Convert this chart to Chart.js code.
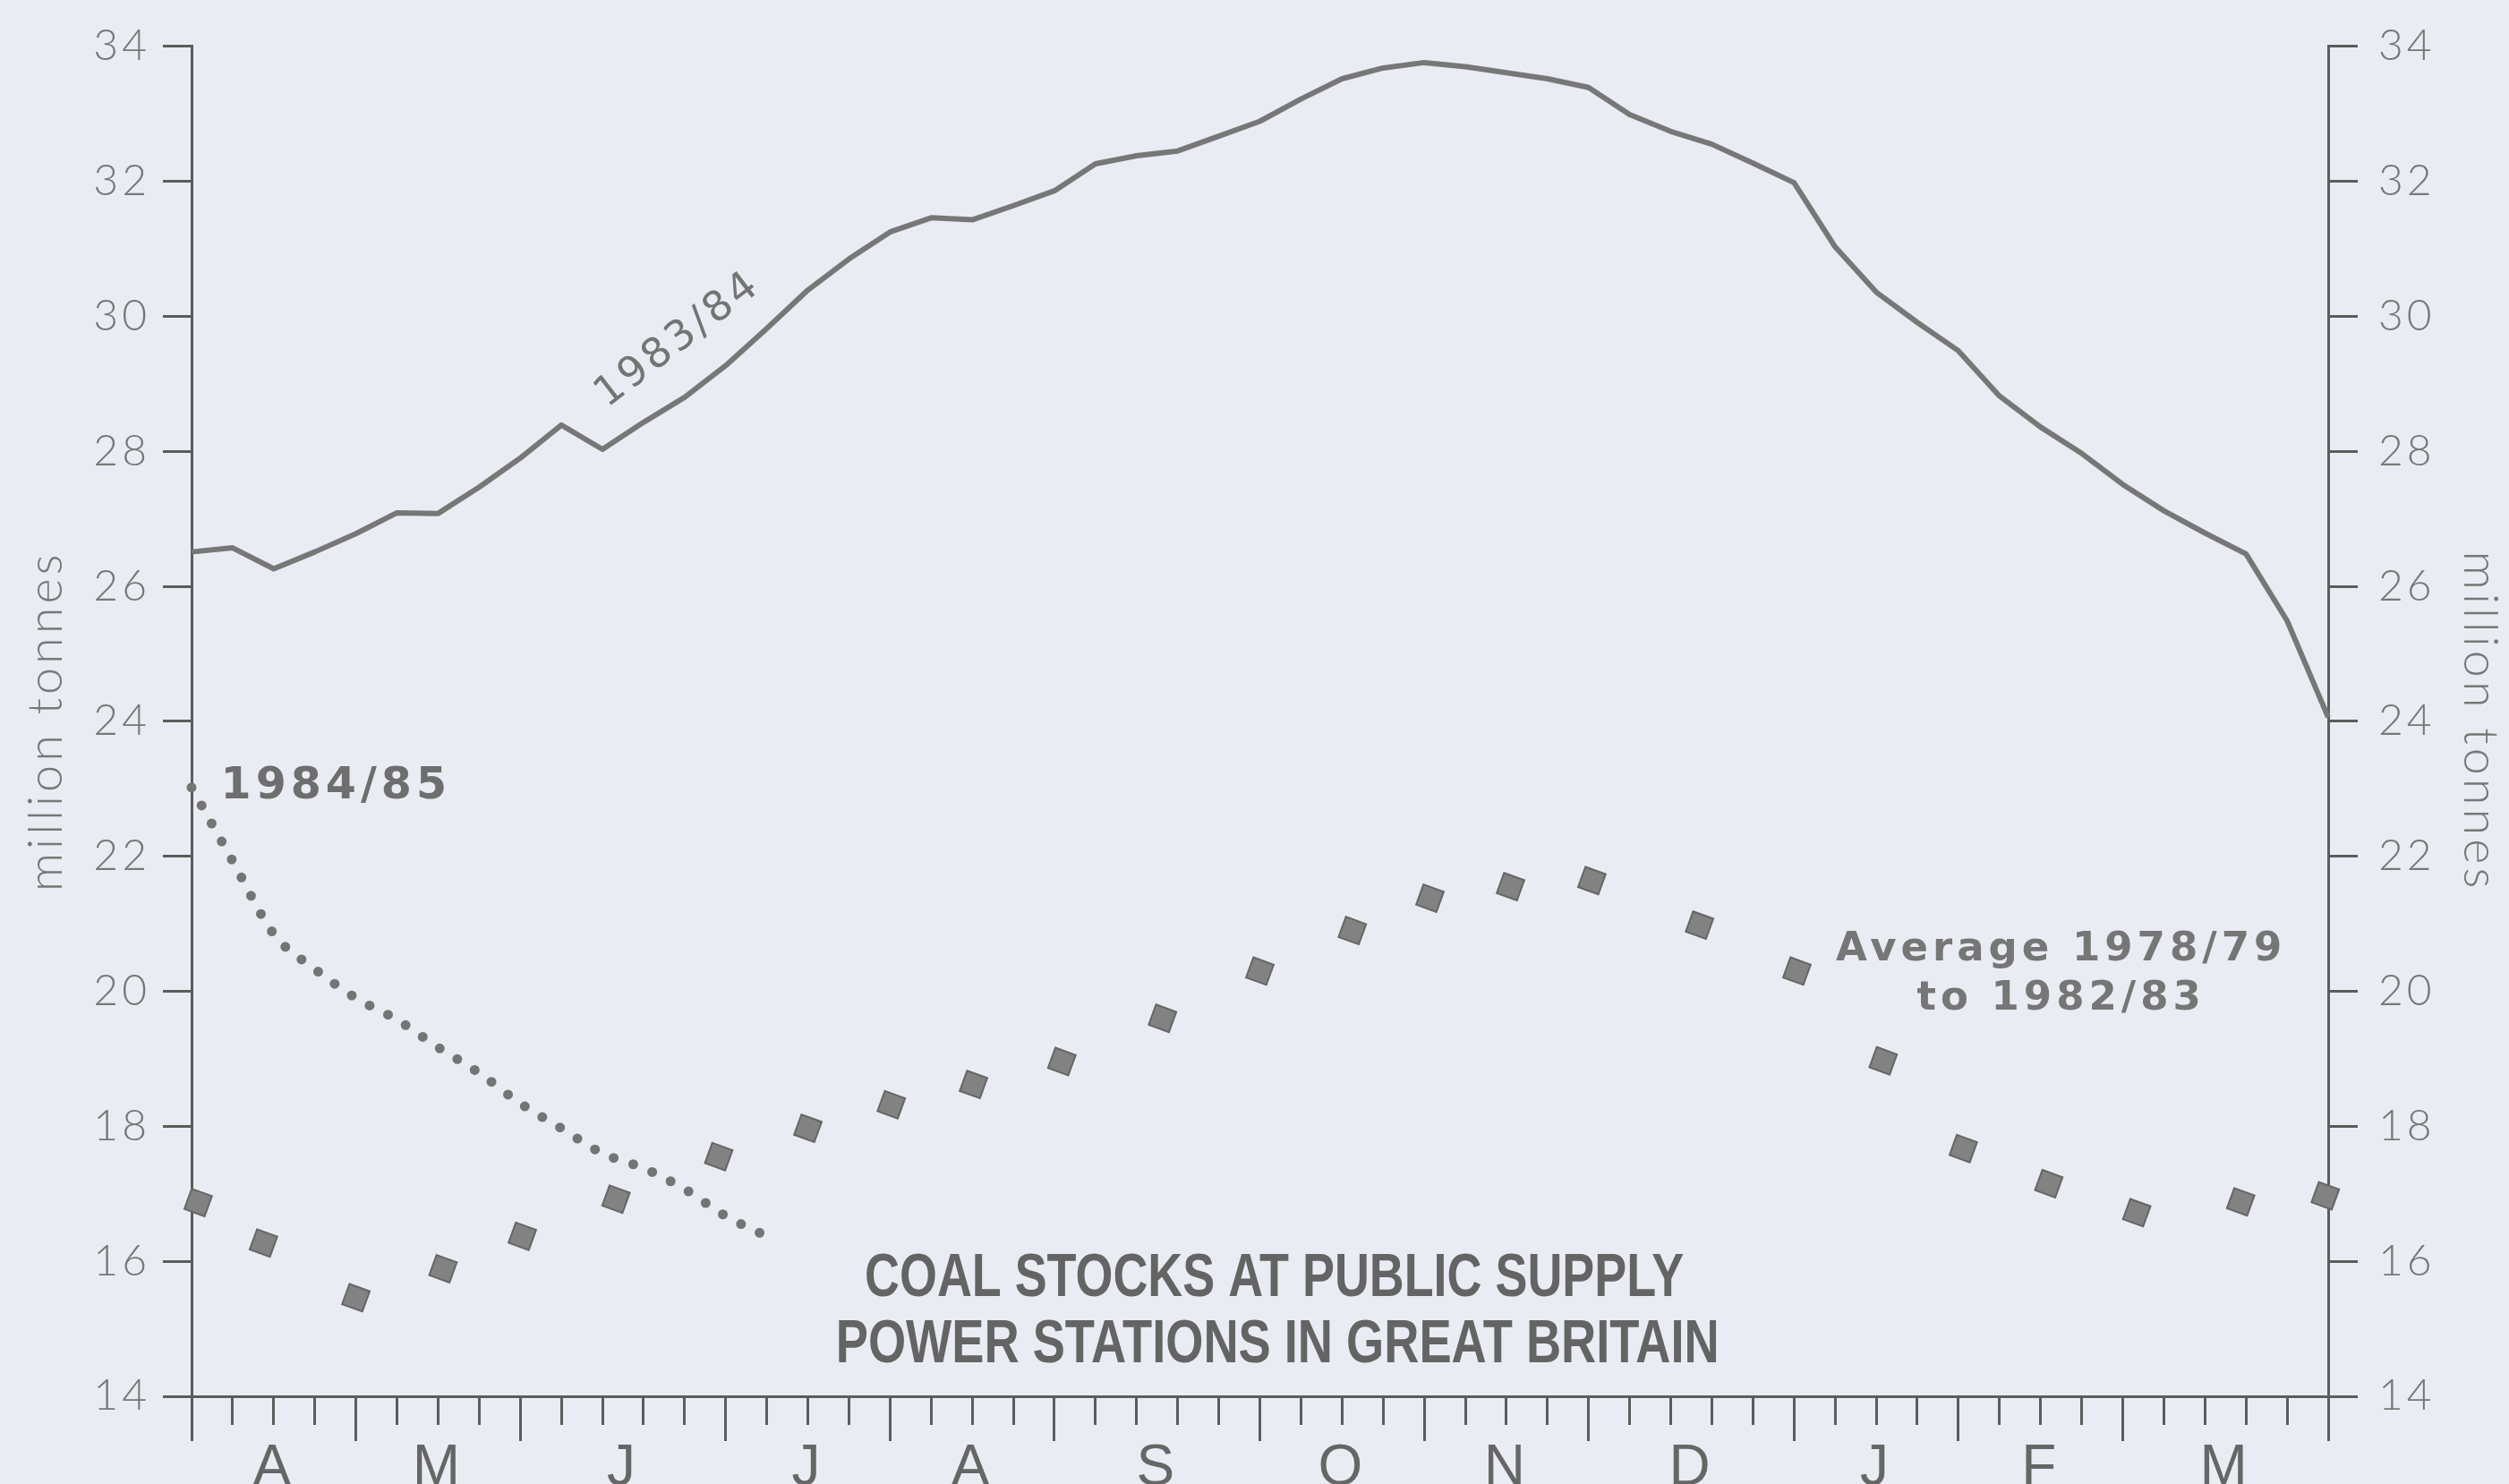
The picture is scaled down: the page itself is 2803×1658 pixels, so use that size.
<!DOCTYPE html>
<html>
<head>
<meta charset="utf-8">
<script src="https://cdn.jsdelivr.net/npm/chart.js@4.4.1/dist/chart.umd.min.js"></script>
<style>
html,body{margin:0;padding:0;background:#e9edf3;}
#wrap{width:2803px;height:1658px;}
canvas{display:block;}
</style>
</head>
<body>
<div id="wrap"><canvas id="c" width="2803" height="1658"></canvas></div>
<script>
// ---------- data ----------
const monthLabels  = ['A','M','J','J','A','S','O','N','D','J','F','M'];
const monthBounds  = [0,4,8,13,17,21,26,30,34,39,43,47,52];      // week index of month starts
const monthCentres = [2,6,10.5,15,19,23.5,28,32,36.5,41,45,49.5];
const yTicks       = [14,16,18,20,22,24,26,28,30,32,34];

// 1983/84 weekly stocks (week 0 = start of April)
const stocks8384 = [26.51,26.57,26.26,26.51,26.78,27.09,27.08,27.47,27.9,28.39,28.03,28.43,28.8,29.27,
  29.82,30.39,30.85,31.25,31.46,31.43,31.64,31.86,32.26,32.38,32.45,32.67,32.89,33.22,33.52,33.68,
  33.76,33.7,33.61,33.52,33.39,32.99,32.74,32.55,32.27,31.98,31.03,30.36,29.91,29.49,28.82,28.36,
  27.97,27.51,27.12,26.79,26.48,25.49,24.06];

// 1984/85
const weeks8485  = [0,1,2,3,4,5,6,7,8,9,10,11,12,13,13.9];
const stocks8485 = [23.02,21.93,20.85,20.33,19.9,19.58,19.17,18.79,18.34,17.97,17.6,17.38,17.07,16.67,16.4];

// Average 1978/79 to 1982/83 (half-monthly)
const weeksAvg  = [0.16,1.75,4.0,6.12,8.05,10.33,12.83,15.0,17.03,19.03,21.18,23.63,26.0,28.25,30.14,
  32.1,34.08,36.7,39.07,41.17,43.12,45.2,47.34,49.87,51.93];
const stocksAvg = [16.87,16.27,15.46,15.89,16.37,16.92,17.55,17.97,18.32,18.62,18.96,19.6,20.3,20.9,
  21.38,21.55,21.64,20.98,20.3,18.97,17.67,17.15,16.72,16.88,16.97];

const weekTicks = Array.from({length:53},(_,i)=>i);

// ---------- style ----------
const BG = '#e9edf3';
const AXIS = '#5c5c5c';
const TICKTXT = '#777777';

const annot = {
  id:'annot',
  beforeDraw(chart){
    const c = chart.ctx;
    c.save(); c.fillStyle = BG; c.fillRect(0,0,chart.width,chart.height); c.restore();
    c.letterSpacing = '4px';
  },
  beforeDatasetsDraw(chart){ chart.ctx.letterSpacing = '0px'; },
  afterDraw(chart){
    const ctx = chart.ctx, x = chart.scales.x, y = chart.scales.y;
    const px = w => x.getPixelForValue(w), py = v => y.getPixelForValue(v);

    // 1983/84 label along the line
    ctx.save();
    ctx.translate(px(11.85), py(29.65));
    ctx.rotate(-37.5*Math.PI/180);
    ctx.font = '46px "DejaVu Sans", sans-serif';
    ctx.letterSpacing = '4px';
    ctx.fillStyle = '#747474';
    ctx.textAlign = 'center'; ctx.textBaseline = 'middle';
    ctx.fillText('1983/84', 0, 0);
    ctx.restore();

    // 1984/85 label
    ctx.save();
    ctx.font = 'bold 49px "DejaVu Sans", sans-serif';
    ctx.letterSpacing = '5px';
    ctx.fillStyle = '#6e6e6e';
    ctx.textAlign = 'left'; ctx.textBaseline = 'middle';
    ctx.fillText('1984/85', px(0.71), py(23.03));
    ctx.restore();

    // Average label
    ctx.save();
    ctx.font = 'bold 45px "DejaVu Sans", sans-serif';
    ctx.letterSpacing = '5px';
    ctx.fillStyle = '#767676';
    ctx.textAlign = 'center'; ctx.textBaseline = 'alphabetic';
    ctx.fillText('Average 1978/79', px(45.5), py(20.46));
    ctx.fillText('to 1982/83', px(45.5), py(19.73));
    ctx.restore();

    // Title
    ctx.save();
    ctx.font = 'bold 69px "Liberation Sans Narrow", "Liberation Sans", Arial, sans-serif';
    ctx.letterSpacing = '0px';
    ctx.fillStyle = '#646464';
    ctx.textAlign = 'center'; ctx.textBaseline = 'alphabetic';
    const fitted = (t, cx, by, w) => {
      const m = ctx.measureText(t).width;
      ctx.save(); ctx.translate(cx, by); ctx.scale(w/m, 1); ctx.fillText(t, 0, 0); ctx.restore();
    };
    fitted('COAL STOCKS AT PUBLIC SUPPLY', px(26.35), py(15.49), 915);
    fitted('POWER STATIONS IN GREAT BRITAIN', px(26.43), py(14.5), 987);
    ctx.restore();
  }
};

const yAxisCommon = (pos) => ({
  type:'linear', position:pos, min:14, max:34,
  afterBuildTicks: s => { s.ticks = yTicks.map(v => ({value:v})); },
  ticks:{ color:TICKTXT, font:{family:'Lato', weight:'300', size:48}, padding: pos==='left'?14:23 },
  grid:{ drawOnChartArea:false, drawTicks:true, tickLength: pos==='left'?32:33, tickColor:AXIS, tickWidth:3 },
  border:{ display:true, color:AXIS, width:3 },
  title:{ display:true, text:'million tonnes', color:TICKTXT,
          font:{family:'Lato', weight:'300', size:54}, padding:{top: pos==='left'?19:0, bottom:0} },
  afterFit: s => { s.width = pos==='left' ? 214 : 202; }
});

const chart = new Chart(document.getElementById('c'), {
  type:'line',
  data:{
    datasets:[
      { label:'Average 1978/79 to 1982/83',
        data: weeksAvg.map((w,i)=>({x:w, y:stocksAvg[i]})),
        showLine:false, pointStyle:'rect', pointRotation:20, pointRadius:17,
        pointBackgroundColor:'#828282', pointBorderColor:'#666666', pointBorderWidth:2,
        clip:false },
      { label:'1984/85',
        data: weeks8485.map((w,i)=>({x:w, y:stocks8485[i]})),
        borderColor:'#747474', borderWidth:11, borderDash:[0,23], borderCapStyle:'round',
        pointRadius:0, cubicInterpolationMode:'monotone', fill:false, clip:false },
      { label:'1983/84',
        data: stocks8384.map((v,i)=>({x:weekTicks[i], y:v})),
        borderColor:'#777777', borderWidth:6, borderJoinStyle:'round', pointRadius:0,
        tension:0, fill:false, clip:false }
    ]
  },
  options:{
    responsive:false, animation:false, events:[],
    layout:{ padding:{ top:50, left:0, right:0, bottom:0 } },
    plugins:{ legend:{display:false}, tooltip:{enabled:false}, title:{display:false} },
    scales:{
      x:{ type:'linear', position:'bottom', min:0, max:52, weight:0,
          afterBuildTicks: s => { s.ticks = weekTicks.map(v => ({value:v})); },
          ticks:{ display:false },
          grid:{ drawOnChartArea:false, drawTicks:true, tickLength:32, tickColor:AXIS, tickWidth:3 },
          border:{ display:true, color:AXIS, width:3 },
          afterFit: s => { s.height = 0; } },
      xm:{ type:'linear', position:'bottom', min:0, max:52, weight:1,
          afterBuildTicks: s => { s.ticks = monthBounds.map(v => ({value:v})); },
          ticks:{ display:false },
          grid:{ drawOnChartArea:false, drawTicks:true, tickLength:50, tickColor:AXIS, tickWidth:3 },
          border:{ display:false },
          afterFit: s => { s.height = 0; } },
      xl:{ type:'linear', position:'bottom', min:0, max:52, weight:5,
          afterBuildTicks: s => { s.ticks = monthCentres.map(v => ({value:v})); },
          ticks:{ autoSkip:false, maxRotation:0, padding:43, color:'#666666',
                  font:{family:'"Liberation Sans", Arial, sans-serif', size:64},
                  callback:(v,i) => monthLabels[i] },
          grid:{ display:false, drawTicks:false },
          border:{ display:false },
          afterFit: s => { s.height = 98; } },
      y: yAxisCommon('left'),
      y2: yAxisCommon('right')
    }
  },
  plugins:[annot]
});
</script>
</body>
</html>
